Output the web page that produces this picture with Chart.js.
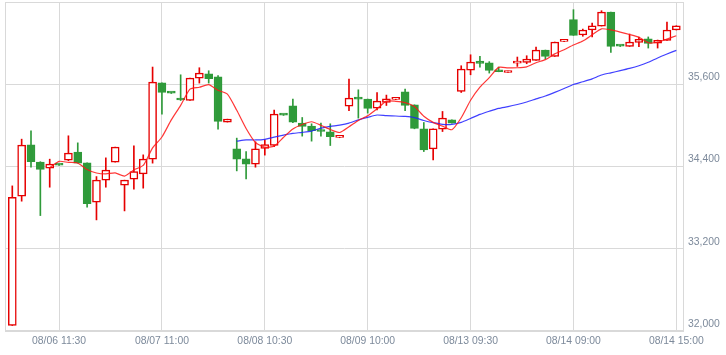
<!DOCTYPE html>
<html><head><meta charset="utf-8">
<script src="https://cdn.jsdelivr.net/npm/chart.js@4.4.1/dist/chart.umd.min.js"></script>
<style>html,body{margin:0;padding:0;background:#fff;}canvas{display:block;}</style>
</head><body>
<canvas id="c" width="726" height="355"></canvas>
<script>
const days = ['08/06','08/07','08/08','08/09','08/13','08/14'];
const times = ['09:00','09:30','10:00','10:30','11:00','11:30','12:30','13:00','13:30','14:00','14:30','15:00'];
const categories = days.flatMap(d => times.map(t => d + ' ' + t));
const tickLabels = ['08/06 11:30','08/07 11:00','08/08 10:30','08/09 10:00','08/13 09:30','08/14 09:00','08/14 15:00'];
const yTicks = [32000, 33200, 34400, 35600, 36800];

const opens = [32083,33967,34716,34464,34376,34425,34493,34610,34453,33879,34201,34464,34128,34215,34293,34507,35622,35475,35378,35363,35690,35753,35709,35048,34658,34512,34434,34662,34706,35155,35286,35033,34989,34931,34906,34825,35281,35390,35384,35252,35334,35380,35490,35300,34950,34658,34945,35081,35495,35807,35938,35914,35811,35772,35909,35918,35947,36099,36006,36225,36542,36318,36391,36449,36653,36160,36152,36211,36264,36201,36240,36391];
const highs = [34117,34799,34921,34470,34507,34430,34848,34745,34453,34253,34526,34683,34201,34702,34570,35851,35622,35480,35738,35690,35841,35797,35728,35091,34814,34618,34760,34789,35223,35160,35384,35115,35023,35033,35023,34835,35676,35519,35384,35480,35442,35390,35529,35300,35042,34950,35203,35081,35870,36030,36006,35930,35851,35792,35997,36016,36143,36099,36216,36235,36688,36405,36493,36673,36653,36165,36333,36289,36290,36245,36508,36454];
const lows = [32080,33894,34390,33684,34098,34415,34485,34449,33806,33621,34098,34464,33752,34069,34084,34449,35165,35465,35363,35363,35617,35617,34945,35048,34336,34220,34390,34566,34690,35145,35040,34843,34770,34843,34706,34820,35213,35106,35179,35227,35290,35375,35213,34950,34618,34497,34910,35033,35480,35738,35851,35763,35782,35772,35860,35899,35947,35968,36006,36220,36312,36300,36289,36449,36064,36150,36152,36147,36128,36128,36240,36391];
const closes = [33952,34712,34472,34356,34434,34420,34595,34449,33859,34201,34347,34683,34201,34326,34507,35632,35480,35471,35370,35690,35763,35680,35056,35091,34507,34434,34658,34721,35165,35150,35048,34983,34921,34910,34837,34830,35398,35384,35246,35354,35388,35384,35290,34954,34643,34950,35106,35033,35822,35924,35903,35801,35782,35792,35928,35968,36099,36006,36216,36230,36312,36391,36454,36653,36152,36157,36216,36254,36196,36240,36391,36454];

const ma5Start = 4;
const ma5 = [34385,34475,34460,34452,34355,34305,34292,34306,34260,34350,34415,34672,34830,35080,35292,35528,35556,35595,35512,35456,35220,34955,34750,34682,34697,34826,34948,35013,35053,35002,34940,34896,34979,35072,35139,35242,35354,35351,35332,35274,35132,35044,34989,34937,35111,35367,35558,35697,35846,35840,35841,35854,35914,35959,36043,36104,36173,36231,36321,36408,36392,36361,36326,36286,36205,36213,36259,36307];
const ma25Start = 24;
const ma25 = [34770,34789,34787,34797,34829,34858,34883,34898,34917,34959,34985,35004,35033,35080,35117,35151,35141,35137,35130,35113,35071,35039,35016,35015,35044,35101,35160,35206,35248,35273,35304,35341,35386,35429,35481,35537,35596,35636,35679,35735,35767,35798,35831,35870,35920,35984,36041,36095];

const UP = '#e60000', DOWN = '#2f9a3a';
const isUp = closes.map((c, i) => c >= opens[i]);
const bodyData = categories.map((_, i) => ({x: i, y: [opens[i], closes[i]]}));
const wickData = categories.map((_, i) => ({x: i, y: [lows[i], highs[i]]}));
const labelColor = '#7d8a9b';
const gridColor = '#d9d9d9';
const font = {family: 'Liberation Sans, Arial, sans-serif', size: 10.4};

new Chart(document.getElementById('c'), {
  type: 'bar',
  data: {
    datasets: [
      {type: 'line', data: ma5.map((v, k) => ({x: k + ma5Start, y: v})), borderColor: 'rgba(255,20,20,0.85)', borderWidth: 1.2, pointRadius: 0, tension: 0.2, order: 0},
      {type: 'line', data: ma25.map((v, k) => ({x: k + ma25Start, y: v})), borderColor: 'rgba(30,30,255,0.85)', borderWidth: 1.2, pointRadius: 0, tension: 0.2, order: 1},
      {data: bodyData, backgroundColor: isUp.map(u => u ? '#ffffff' : DOWN), borderColor: isUp.map(u => u ? UP : DOWN), borderWidth: 1.5, borderSkipped: false, barThickness: 8, minBarLength: 2, grouped: false, order: 2},
      {data: wickData, backgroundColor: isUp.map(u => u ? UP : DOWN), borderWidth: 0, barThickness: 1, grouped: false, order: 3}
    ]
  },
  options: {
    responsive: false,
    animation: false,
    layout: {padding: {left: 5, top: 2, right: 0, bottom: 0}},
    plugins: {legend: {display: false}, tooltip: {enabled: false}},
    scales: {
      x: {
        type: 'linear', min: -0.78, max: 71.82, offset: false,
        grid: {offset: false, color: gridColor, drawTicks: false},
        border: {display: false},
        afterBuildTicks: s => { s.ticks = tickLabels.map(l => ({value: categories.indexOf(l)})); },
        ticks: {autoSkip: false, maxRotation: 0, padding: 4, color: labelColor, font, callback: v => categories[v]},
        afterFit: s => { s.height = 24; s.paddingLeft = 0; s.paddingRight = 0; }
      },
      y: {
        position: 'right', min: 32000, max: 36800,
        grid: {color: gridColor, drawTicks: false},
        border: {display: false},
        afterBuildTicks: s => { s.ticks = yTicks.map(v => ({value: v})); },
        ticks: {padding: 4, labelOffset: -7, color: labelColor, font, callback: v => v === 36800 ? '' : v.toLocaleString('en-US')},
        afterFit: s => { s.width = 42; s.paddingTop = 0; s.paddingBottom = 0; }
      }
    }
  },
  plugins: [{
    id: 'frame',
    beforeDatasetsDraw(chart) {
      const a = chart.chartArea, ctx = chart.ctx;
      ctx.save();
      ctx.strokeStyle = gridColor;
      ctx.lineWidth = 1;
      ctx.strokeRect(a.left + 0.5, a.top + 0.5, a.right - a.left - 1, a.bottom - a.top - 1);
      ctx.restore();
    }
  }]
});
</script>
</body></html>
